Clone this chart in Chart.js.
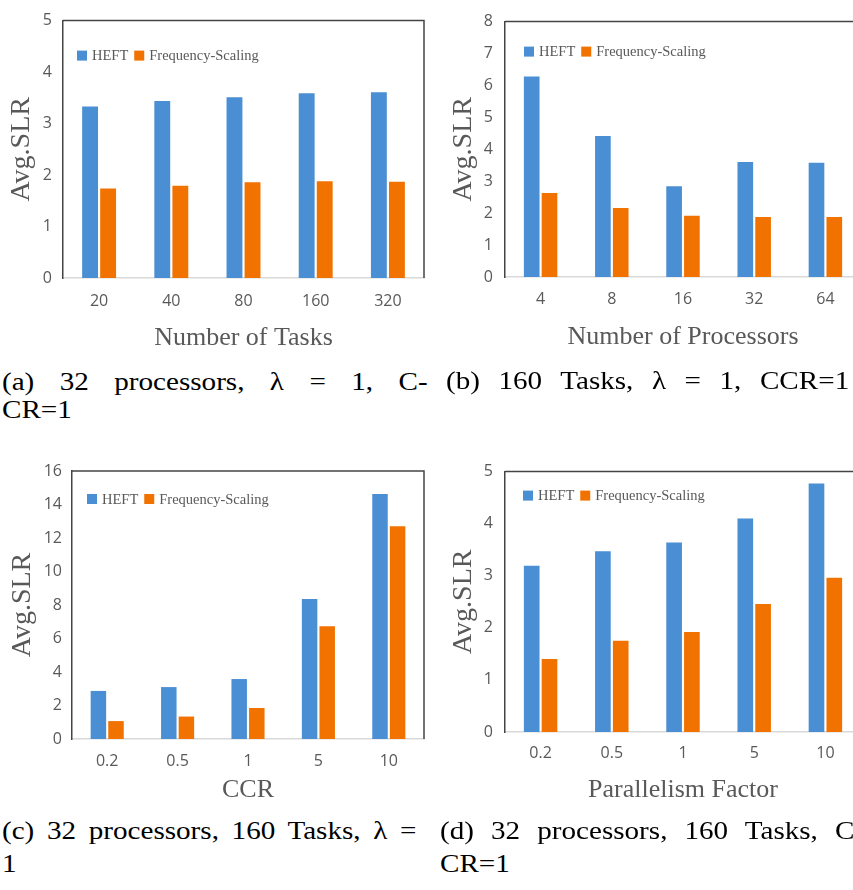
<!DOCTYPE html>
<html>
<head>
<meta charset="utf-8">
<script src="https://cdn.jsdelivr.net/npm/chart.js@4"></script>
<style>
  html, body { margin: 0; padding: 0; background: #fff; overflow: hidden; }
  body { position: relative; width: 853px; height: 890px; }
  canvas { position: absolute; }
  .cap {
    position: absolute; font-family: 'Liberation Serif', serif; font-size: 26px;
    line-height: 1; white-space: nowrap; color: #000;
    transform-origin: left top; transform: scaleX(1.12);
  }
  .just { text-align: justify; text-align-last: justify; }
</style>
</head>
<body>
<canvas id="a" width="432" height="355" style="left:0;top:0"></canvas>
<canvas id="b" width="440" height="355" style="left:430px;top:0"></canvas>
<canvas id="c" width="432" height="358" style="left:0;top:450px"></canvas>
<canvas id="d" width="440" height="358" style="left:430px;top:450px"></canvas>

<div class="cap just" style="left:2px;top:369px;width:380px">(a) 32 processors, λ = 1, C-</div>
<div class="cap" style="left:2px;top:397px">CR=1</div>
<div class="cap just" style="left:446px;top:368px;width:360px">(b) 160 Tasks, λ = 1, CCR=1</div>
<div class="cap just" style="left:2px;top:818px;width:370px">(c) 32 processors, 160 Tasks, λ =</div>
<div class="cap" style="left:2px;top:851px">1</div>
<div class="cap just" style="left:440px;top:818px;width:370px">(d) 32 processors, 160 Tasks, C</div>
<div class="cap" style="left:440px;top:851px">CR=1</div>

<script>
// data
var taskCounts = ['20', '40', '80', '160', '320'];
var heftTasks = [3.33, 3.44, 3.51, 3.59, 3.61];
var fsTasks = [1.74, 1.79, 1.86, 1.88, 1.87];

var procCounts = ['4', '8', '16', '32', '64'];
var heftProcs = [6.28, 4.42, 2.84, 3.60, 3.58];
var fsProcs = [2.63, 2.16, 1.92, 1.88, 1.88];

var ccrValues = ['0.2', '0.5', '1', '5', '10'];
var heftCcr = [2.87, 3.10, 3.58, 8.36, 14.63];
var fsCcr = [1.07, 1.34, 1.85, 6.73, 12.70];

var pfValues = ['0.2', '0.5', '1', '5', '10'];
var heftPf = [3.19, 3.47, 3.64, 4.10, 4.77];
var fsPf = [1.40, 1.75, 1.92, 2.46, 2.96];

var seriesNames = ['HEFT', 'Frequency-Scaling'];
var seriesColors = ['#4A8FD3', '#F27200'];

var gray = '#595959';

// legend drawn inside the plot frame, like the original
var insideLegend = {
  id: 'insideLegend',
  afterDatasetsDraw: function (chart, args, opts) {
    var ctx = chart.ctx, area = chart.chartArea;
    var x = area.left + opts.x, y = area.top + opts.y;
    ctx.save();
    ctx.font = '14.5px "Liberation Serif"';
    ctx.textBaseline = 'middle';
    chart.data.datasets.forEach(function (ds) {
      ctx.fillStyle = ds.backgroundColor;
      ctx.fillRect(x, y - 5, 10, 10);
      x += 15;
      ctx.fillStyle = gray;
      ctx.fillText(ds.label, x, y + 1);
      x += ctx.measureText(ds.label).width + 6;
    });
    ctx.restore();
  }
};

// dark frame on top and right of plot
var frame = {
  id: 'frame',
  afterDraw: function (chart) {
    var ctx = chart.ctx, a = chart.chartArea;
    ctx.save();
    ctx.strokeStyle = '#444';
    ctx.lineWidth = 1.5;
    ctx.beginPath();
    ctx.moveTo(a.left, a.top);
    ctx.lineTo(a.right, a.top);
    ctx.lineTo(a.right, a.bottom);
    ctx.stroke();
    ctx.restore();
  }
};

function makeChart(id, labels, heft, fs, yMax, step, xTitle, g) {
  var canvas = document.getElementById(id);
  var W = canvas.width, H = canvas.height;
  return new Chart(canvas.getContext('2d'), {
    type: 'bar',
    data: {
      labels: labels,
      datasets: [
        { label: seriesNames[0], data: heft, backgroundColor: seriesColors[0] },
        { label: seriesNames[1], data: fs, backgroundColor: seriesColors[1] }
      ]
    },
    options: {
      responsive: false,
      animation: false,
      datasets: { bar: { categoryPercentage: 0.5, barPercentage: 0.88 } },
      layout: { padding: { top: g.top, right: W - g.right, bottom: 0, left: 0 } },
      plugins: {
        legend: { display: false },
        tooltip: { enabled: false },
        insideLegend: { x: g.legX, y: g.legY }
      },
      scales: {
        x: {
          grid: { display: false, drawTicks: false },
          border: { color: '#d9d9d9', width: 1.5 },
          ticks: { color: gray, font: { family: 'Open Sans', size: 16 }, padding: g.xPad },
          title: {
            display: true, text: xTitle, color: gray,
            font: { family: 'Liberation Serif', size: 26 },
            padding: { top: 0, bottom: g.xTitlePad }
          },
          afterFit: function (s) { s.height = H - g.bottom; }
        },
        y: {
          min: 0, max: yMax,
          grid: { display: false, drawTicks: false },
          border: { color: '#444', width: 1.5 },
          ticks: { stepSize: step, color: gray, font: { family: 'Open Sans', size: 16 }, padding: g.yPad },
          title: {
            display: true, text: 'Avg.SLR', color: gray,
            font: { family: 'Liberation Serif', size: 28 },
            padding: { top: g.yTitlePad, bottom: 0 }
          },
          afterFit: function (s) { s.width = g.left; }
        }
      }
    },
    plugins: [insideLegend, frame]
  });
}

makeChart('a', taskCounts, heftTasks, fsTasks, 5, 1, 'Number of Tasks',
  { left: 63, right: 424, top: 16, bottom: 278, xPad: 14, xTitlePad: 1, yPad: 11, yTitlePad: 5, legX: 14, legY: 35 });
makeChart('b', procCounts, heftProcs, fsProcs, 8, 1, 'Number of Processors',
  { left: 75, right: 431, top: 13, bottom: 277, xPad: 13, xTitlePad: 2, yPad: 12, yTitlePad: 17, legX: 19, legY: 30 });
makeChart('c', ccrValues, heftCcr, fsCcr, 16, 2, 'CCR',
  { left: 72, right: 424, top: 21, bottom: 289, xPad: 13, xTitlePad: 2, yPad: 10, yTitlePad: 6, legX: 15, legY: 28 });
makeChart('d', pfValues, heftPf, fsPf, 5, 1, 'Parallelism Factor',
  { left: 75, right: 431, top: 19, bottom: 282, xPad: 12, xTitlePad: 2, yPad: 12, yTitlePad: 17, legX: 18, legY: 24 });
</script>
</body>
</html>
